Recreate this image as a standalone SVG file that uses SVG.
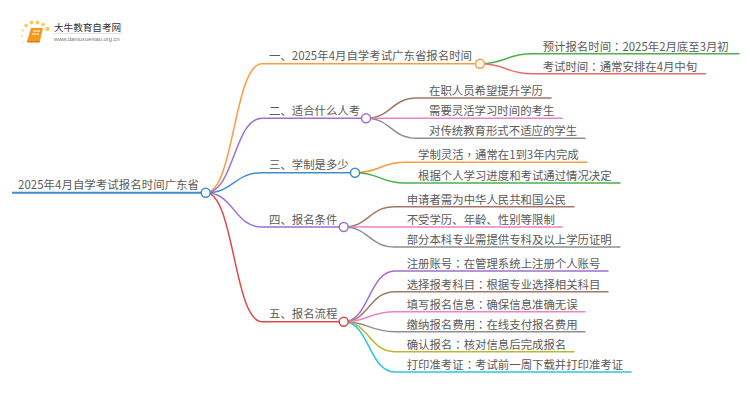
<svg xmlns="http://www.w3.org/2000/svg" width="750" height="410" viewBox="0 0 750 410">
<style>
text{font-family:"Noto Sans CJK SC","Liberation Sans",sans-serif;font-size:11.4px;fill:#5a5a5a}
.p{font-family:"Noto Sans CJK TC","Liberation Sans",sans-serif}
.c{fill:none;stroke-width:1.5;stroke-linecap:round}
.n{fill:#fff;stroke-width:1.5}
</style>
<rect width="750" height="410" fill="#fff"/>
<g id="logo">
<g fill="#fbc95e"><circle cx="47.500" cy="29" r="2.200"/><circle cx="43" cy="24.500" r="1.800"/><circle cx="37.500" cy="22.500" r="1.900"/><circle cx="31.500" cy="22.500" r="1.900"/><circle cx="26" cy="25.500" r="1.700"/><circle cx="22.500" cy="30.500" r="1.300" opacity=".7"/><circle cx="22" cy="36" r="1.200" opacity=".6"/><circle cx="23.500" cy="42" r="1" opacity=".4"/></g>
<path d="M31 28H43L40 41H27Z" fill="#f39a1e"/><path d="M27 41H40L39.500 42.500H27.500Z" fill="#d97a10"/><path d="M33 31H40M32 34H39" stroke="#fff" stroke-width="1" fill="none"/>
<text x="54" y="31" style="font-size:9.600px;fill:#333">大牛教育自考网</text>
<path d="M54 33.500H122" stroke="#ccc" stroke-width=".6"/>
<text x="54" y="41" style="font-size:5.800px;fill:#777;font-family:'Liberation Sans',sans-serif">www.daniuxuexiao.org.cn</text>
</g>
<g id="connectors">
<path d="M12 192.700H206" fill="none" stroke="#3f8fc9" stroke-width="2"/>
<path class="c" stroke="#ff9a3c" d="M206 192.700C234 192.700 234 63.700 262 63.700H476"/>
<path class="c" stroke="#a06fd0" d="M206 192.700C234 192.700 234 118.300 262 118.300H362"/>
<path class="c" stroke="#3f8fc9" d="M206 192.700C234 192.700 234 172.700 262 172.700H351"/>
<path class="c" stroke="#a06fd0" d="M206 192.700C234 192.700 234 227 262 227H340"/>
<path class="c" stroke="#e04848" d="M206 192.700C234 192.700 234 321.700 262 321.700H340"/>
<path class="c" stroke="#4fb04a" d="M480 63.700C506 63.700 506 53.700 532 53.700H739"/>
<path class="c" stroke="#e56b6b" d="M480 63.700C506 63.700 506 73.700 532 73.700H705.500"/>
<path class="c" stroke="#a5766a" d="M366 118.300C391 118.300 391 98 417 98H551"/>
<path class="c" stroke="#ee82c8" d="M366 118.300H562"/>
<path class="c" stroke="#8f8f8f" d="M366 118.300C391 118.300 391 138.300 417 138.300H585"/>
<path class="c" stroke="#ff9a3c" d="M355 172.700C380 172.700 380 162.300 405 162.300H587"/>
<path class="c" stroke="#4fb04a" d="M355 172.700C380 172.700 380 183 405 183H620"/>
<path class="c" stroke="#a5766a" d="M343.700 227C369 227 369 206.700 395 206.700H574"/>
<path class="c" stroke="#ee82c8" d="M343.700 227H562"/>
<path class="c" stroke="#8f8f8f" d="M343.700 227C369 227 369 247 395 247H620"/>
<path class="c" stroke="#a06fd0" d="M343.700 321.700C369 321.700 369 271 395 271H608"/>
<path class="c" stroke="#a5766a" d="M343.700 321.700C369 321.700 369 291.700 395 291.700H608"/>
<path class="c" stroke="#ee82c8" d="M343.700 321.700C369 321.700 369 311.700 395 311.700H585"/>
<path class="c" stroke="#8f8f8f" d="M343.700 321.700C369 321.700 369 331.700 395 331.700H585"/>
<path class="c" stroke="#bdb72f" d="M343.700 321.700C369 321.700 369 351.700 395 351.700H574"/>
<path class="c" stroke="#2cc5dc" d="M343.700 321.700C369 321.700 369 372 395 372H631"/>
</g>
<g id="root"><text x="18" y="189" textLength="181">2025年4月自学考试报名时间广东省</text><circle class="n" stroke="#3f8fc9" cx="205.700" cy="192.700" r="4.500"/></g>
<g id="b1"><text x="269" y="60" textLength="203">一、2025年4月自学考试广东省报名时间</text><circle class="n" stroke="#ff9a3c" cx="480" cy="63.700" r="4.500"/></g>
<g id="b2"><text x="269" y="115">二、适合什么人考</text><circle class="n" stroke="#a06fd0" cx="366" cy="118.300" r="4.500"/></g>
<g id="b3"><text x="269" y="169">三、学制是多少</text><circle class="n" stroke="#3f8fc9" cx="355" cy="172.700" r="4.500"/></g>
<g id="b4"><text x="269" y="223.500">四、报名条件</text><circle class="n" stroke="#a06fd0" cx="343.700" cy="227" r="4.500"/></g>
<g id="b5"><text x="269" y="318">五、报名流程</text><circle class="n" stroke="#e04848" cx="343.700" cy="321.700" r="4.500"/></g>
<g id="b1-1"><text x="542.700" y="50.500">预计报名时间<tspan class="p">：</tspan>2025年2月底至3月初</text></g>
<g id="b1-2"><text x="542.700" y="70.500">考试时间<tspan class="p">：</tspan>通常安排在4月中旬</text></g>
<g id="b2-1"><text x="429" y="95">在职人员希望提升学历</text></g>
<g id="b2-2"><text x="429" y="115">需要灵活学习时间的考生</text></g>
<g id="b2-3"><text x="429" y="135">对传统教育形式不适应的学生</text></g>
<g id="b3-1"><text x="418" y="159">学制灵活<tspan class="p">，</tspan>通常在1到3年内完成</text></g>
<g id="b3-2"><text x="418" y="180">根据个人学习进度和考试通过情况决定</text></g>
<g id="b4-1"><text x="406.700" y="203.500">申请者需为中华人民共和国公民</text></g>
<g id="b4-2"><text x="406.700" y="223.500">不受学历、年龄、性别等限制</text></g>
<g id="b4-3"><text x="406.700" y="244">部分本科专业需提供专科及以上学历证明</text></g>
<g id="b5-1"><text x="406.700" y="268">注册账号<tspan class="p">：</tspan>在管理系统上注册个人账号</text></g>
<g id="b5-2"><text x="406.700" y="288.500">选择报考科目<tspan class="p">：</tspan>根据专业选择相关科目</text></g>
<g id="b5-3"><text x="406.700" y="308.500">填写报名信息<tspan class="p">：</tspan>确保信息准确无误</text></g>
<g id="b5-4"><text x="406.700" y="328.500">缴纳报名费用<tspan class="p">：</tspan>在线支付报名费用</text></g>
<g id="b5-5"><text x="406.700" y="348.500">确认报名<tspan class="p">：</tspan>核对信息后完成报名</text></g>
<g id="b5-6"><text x="406.700" y="369">打印准考证<tspan class="p">：</tspan>考试前一周下载并打印准考证</text></g>
</svg>
